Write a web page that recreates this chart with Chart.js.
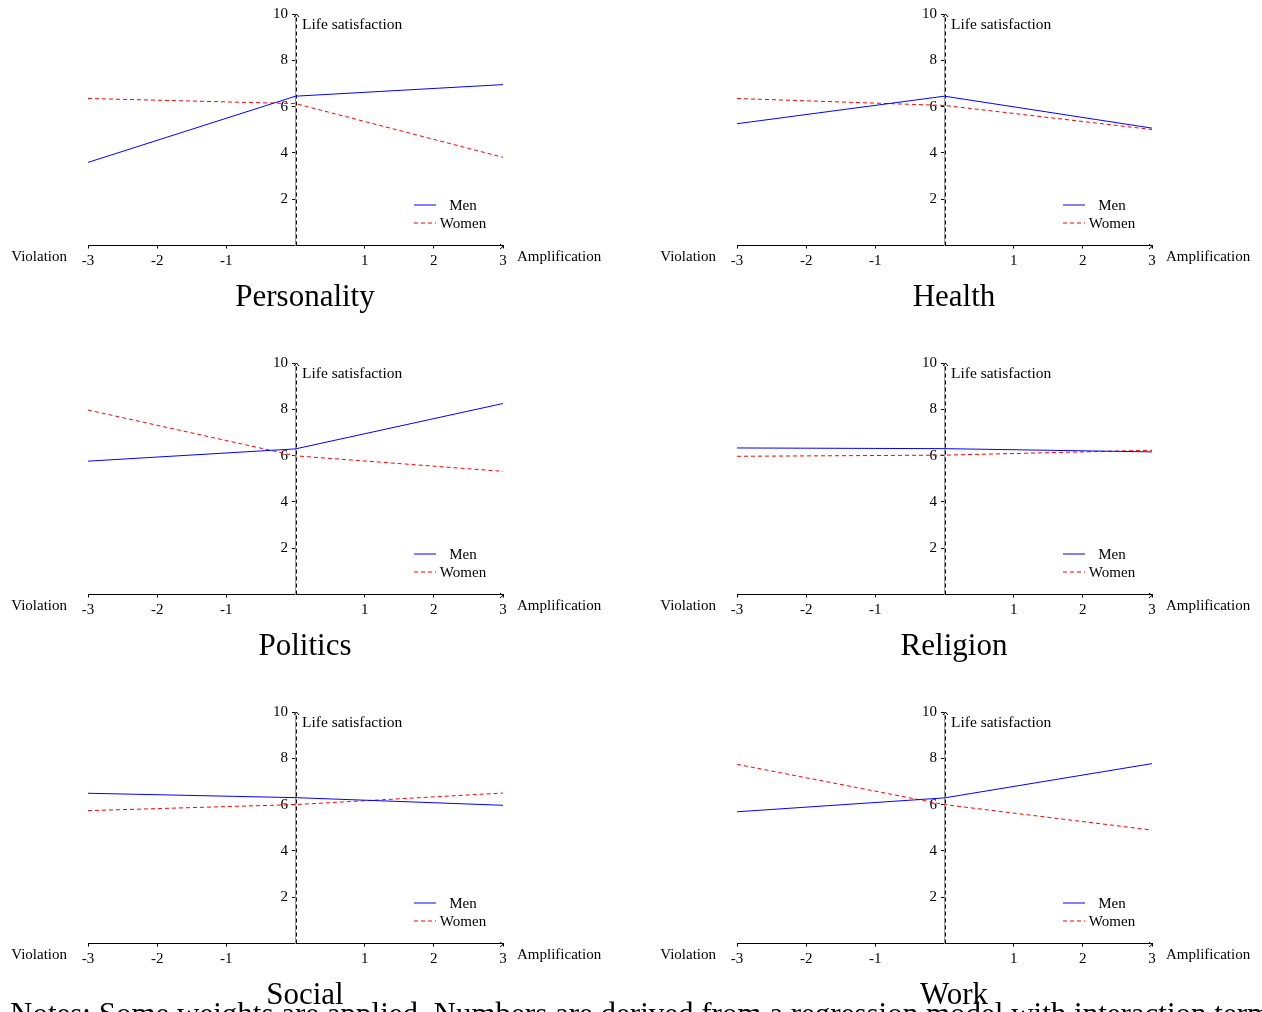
<!DOCTYPE html>
<html>
<head>
<meta charset="utf-8">
<script src="https://cdn.jsdelivr.net/npm/chart.js@4.4.1/dist/chart.umd.min.js"></script>
<style>
  body { margin: 0; background: #fff; width: 1262px; height: 1012px; overflow: hidden; position: relative; font-family: "Liberation Serif", serif; }
  .panel { position: absolute; width: 620px; height: 330px; }
  .title { position: absolute; width: 620px; text-align: center; font-size: 31px; line-height: 31px; color: #000; }
  .note { position: absolute; left: 10px; top: 998px; font-size: 31px; line-height: 31px; white-space: nowrap; color: #000; }
</style>
</head>
<body>
<div id="root"></div>
<div class="note">Notes: Some weights are applied. Numbers are derived from a regression model with interaction terms on the baseline and the</div>
<script>
// x positions of the three estimates: full violation, baseline, full amplification
const xValues = [-3, 0, 3];
const xTickValues = [-3, -2, -1, 1, 2, 3];
const yTickValues = [2, 4, 6, 8, 10];
const panelNames = ['Personality', 'Health', 'Politics', 'Religion', 'Social', 'Work'];

// Life satisfaction
const personalityMen = [3.59, 6.45, 6.95];
const personalityWomen = [6.35, 6.13, 3.81];
const healthMen = [5.26, 6.45, 5.07];
const healthWomen = [6.35, 6.05, 5.01];
const politicsMen = [5.76, 6.29, 8.25];
const politicsWomen = [7.97, 5.99, 5.32];
const religionMen = [6.33, 6.30, 6.16];
const religionWomen = [5.97, 6.02, 6.23];
const socialMen = [6.49, 6.30, 5.97];
const socialWomen = [5.74, 6.00, 6.50];
const workMen = [5.69, 6.29, 7.77];
const workWomen = [7.74, 6.00, 4.90];

const menSeries = [personalityMen, healthMen, politicsMen, religionMen, socialMen, workMen];
const womenSeries = [personalityWomen, healthWomen, politicsWomen, religionWomen, socialWomen, workWomen];

const FONT = '"Liberation Serif", serif';
const dashRed = [4, 3];

// extra bits: dashed line at x=0, arrow heads, axis words, legend
const decor = {
  id: 'decor',
  beforeDatasetsDraw(chart) {
    const ctx = chart.ctx;
    const xs = chart.scales.x, ys = chart.scales.y;
    const x0 = Math.round(xs.getPixelForValue(0)) + 0.5;
    const yBot = ys.getPixelForValue(0), yTop = ys.getPixelForValue(10);
    const xL = xs.getPixelForValue(-3), xR = xs.getPixelForValue(3);
    ctx.save();
    ctx.strokeStyle = '#000';
    ctx.lineWidth = 1;
    ctx.setLineDash([4, 3]);
    ctx.beginPath(); ctx.moveTo(x0, yBot); ctx.lineTo(x0, yTop); ctx.stroke();
    ctx.setLineDash([]);
    // arrow heads
    const ya = Math.round(yBot) + 0.5;
    ctx.beginPath();
    ctx.moveTo(xR - 3, ya - 2.5); ctx.lineTo(xR, ya); ctx.lineTo(xR - 3, ya + 2.5);
    ctx.moveTo(x0 - 2.5, yTop + 3); ctx.lineTo(x0, yTop); ctx.lineTo(x0 + 2.5, yTop + 3);
    ctx.stroke();
    // words
    ctx.fillStyle = '#000';
    ctx.font = '15.5px ' + FONT;
    ctx.textBaseline = 'alphabetic';
    ctx.textAlign = 'left';
    ctx.fillText('Life satisfaction', x0 + 5.5, yTop + 15);
    ctx.font = '15px ' + FONT;
    ctx.fillText('Amplification', xR + 14, yBot + 15);
    ctx.textAlign = 'right';
    ctx.fillText('Violation', xL - 21, yBot + 15);
    // legend
    ctx.textAlign = 'center';
    chart.data.datasets.forEach((ds, i) => {
      const ly = Math.round(yBot - 41 + i * 18);
      ctx.strokeStyle = ds.borderColor;
      ctx.setLineDash(ds.borderDash || []);
      ctx.beginPath(); ctx.moveTo(xR - 89, ly); ctx.lineTo(xR - 67, ly); ctx.stroke();
      ctx.fillStyle = '#000';
      ctx.fillText(ds.label, xR - 40, ly + 5);
    });
    ctx.restore();
  }
};

const root = document.getElementById('root');

panelNames.forEach((name, p) => {
  const col = p % 2, row = Math.floor(p / 2);
  const box = document.createElement('div');
  box.className = 'panel';
  box.style.left = (col * 649) + 'px';
  box.style.top = (row * 349) + 'px';
  const canvas = document.createElement('canvas');
  canvas.width = 620; canvas.height = 330;
  box.appendChild(canvas);
  root.appendChild(box);

  const title = document.createElement('div');
  title.className = 'title';
  title.textContent = name;
  title.style.left = (col * 649 + 305 - 310) + 'px';
  title.style.top = (row * 349 + 280) + 'px';
  root.appendChild(title);

  new Chart(canvas.getContext('2d'), {
    type: 'line',
    data: {
      datasets: [
        {
          label: 'Men',
          data: xValues.map((x, i) => ({ x: x, y: menSeries[p][i] })),
          borderColor: '#0000ff',
          borderWidth: 1,
          pointRadius: 0,
          tension: 0
        },
        {
          label: 'Women',
          data: xValues.map((x, i) => ({ x: x, y: womenSeries[p][i] })),
          borderColor: '#ff0000',
          borderWidth: 1,
          borderDash: dashRed,
          pointRadius: 0,
          tension: 0
        }
      ]
    },
    options: {
      responsive: false,
      animation: false,
      events: [],
      layout: { padding: { left: 88, right: 117, top: 14, bottom: 64.5 } },
      plugins: { legend: { display: false }, tooltip: { enabled: false } },
      scales: {
        x: {
          type: 'linear',
          min: -3, max: 3,
          position: 'bottom',
          afterBuildTicks: s => { s.ticks = xTickValues.map(v => ({ value: v })); },
          afterFit: s => { s.height = 20; },
          ticks: { color: '#000', font: { family: FONT, size: 15 }, padding: 4, maxRotation: 0, autoSkip: false },
          grid: { drawOnChartArea: false, tickLength: 3, color: '#000' },
          border: { color: '#000', width: 1 }
        },
        y: {
          type: 'linear',
          min: 0, max: 10,
          position: { x: 0 },
          afterBuildTicks: s => { s.ticks = yTickValues.map(v => ({ value: v })); },
          afterFit: s => { s.width = 0; },
          ticks: {
            color: '#000', font: { family: FONT, size: 15 }, padding: 4,
            callback: v => v + '\u2002'
          },
          grid: { drawOnChartArea: false, tickLength: 3, color: '#000' },
          border: { color: '#999', width: 1 }
        }
      }
    },
    plugins: [decor]
  });
});
</script>
</body>
</html>
